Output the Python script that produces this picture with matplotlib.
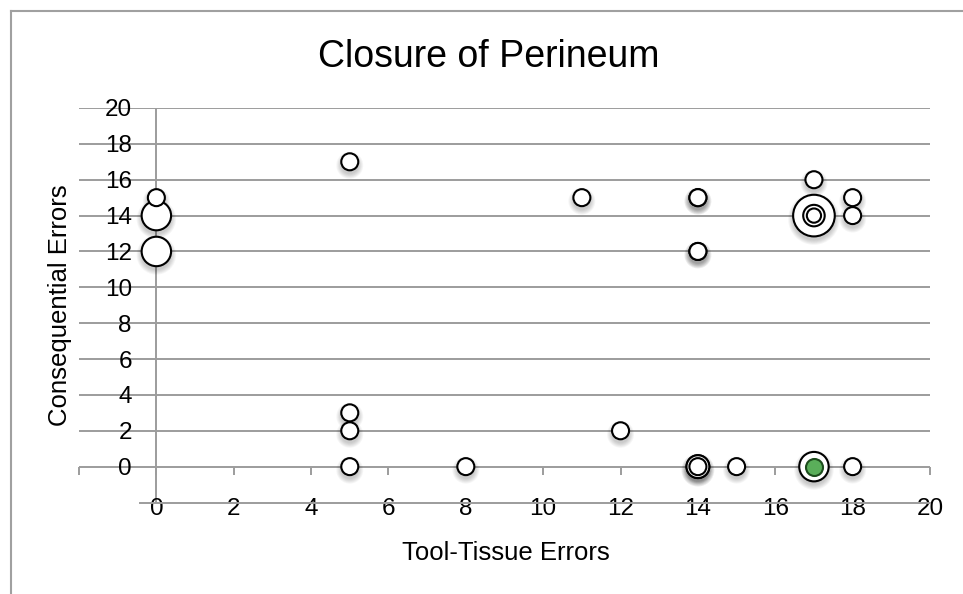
import matplotlib
matplotlib.use("Agg")
import matplotlib.pyplot as plt
import matplotlib.transforms as mtransforms
from matplotlib.lines import Line2D
import numpy as np

plt.rcParams['font.family'] = ['Liberation Sans', 'DejaVu Sans']

# ---- data ----
tool_tissue = [0, 0, 0, 5, 5, 5, 5, 8, 11, 12, 14, 14, 14, 14, 14, 14, 14, 15,
               17, 17, 17, 17, 17, 18, 18, 18]
consequential = [15, 14, 12, 17, 3, 2, 0, 0, 15, 2, 15, 15, 12, 12, 0, 0, 0, 0,
                 16, 14, 14, 14, 0, 15, 14, 0]
bubble_size = [1, 3, 3, 1, 1, 1, 1, 1, 1, 1, 1, 1, 1, 1, 1.8, 1.8, 1, 1,
               1, 6, 1.6, 0.7, 3, 1, 1, 1]

highlight_x = [17]
highlight_y = [0]
highlight_size = [1]

x_ticks = [0, 2, 4, 6, 8, 10, 12, 14, 16, 18, 20]
y_ticks = [0, 2, 4, 6, 8, 10, 12, 14, 16, 18, 20]
title = "Closure of Perineum"
x_label = "Tool-Tissue Errors"
y_label = "Consequential Errors"

# ---- figure ----
W, H, DPI = 963, 594, 100
fig = plt.figure(figsize=(W / DPI, H / DPI), dpi=DPI)
fig.patch.set_facecolor('white')

left_px, right_px, top_px, bottom_px = 79, 930, 108, 502.5
ax = fig.add_axes([left_px / W, 1 - bottom_px / H,
                   (right_px - left_px) / W, (bottom_px - top_px) / H])
ax.set_xlim(-2, 20)
ax.set_ylim(-2, 20)
for s in ax.spines.values():
    s.set_visible(False)

grid_c = '#9c9c9c'
grid_lw = 1.4
tick_fs = 17.5

# horizontal gridlines (y=0 acts as the horizontal axis line)
ax.set_yticks(y_ticks)
ax.set_yticklabels([str(v) for v in y_ticks], fontsize=tick_fs)
ax.yaxis.grid(True, color=grid_c, lw=grid_lw)
ax.tick_params(axis='y', length=0, pad=-38)
for lab in ax.get_yticklabels():
    lab.set_horizontalalignment('right')

ax.set_xticks(x_ticks)
ax.set_xticklabels([str(v) for v in x_ticks], fontsize=tick_fs)
ax.tick_params(axis='x', length=0, pad=-3.5)
ax.set_axisbelow(True)

# vertical axis line at x=0
ax.axvline(0, color=grid_c, lw=grid_lw, zorder=0.5)
# tick marks on horizontal axis at y=0 (pointing down)
tick_pos = [-2] + x_ticks
ax.plot(tick_pos, [0] * len(tick_pos), ls='', marker=3, ms=6,
        mew=grid_lw, color=grid_c, zorder=0.6, clip_on=False)
# bottom line under the axis (passes through the tick labels)
ax.plot([-0.42, 20], [-2, -2], color=grid_c, lw=grid_lw, clip_on=False, zorder=0.6)

# ---- bubbles ----
r1_px = 8.5  # radius of a size-1 bubble in pixels
px2pt = 72.0 / DPI

def s_of(size):
    r = r1_px * np.sqrt(np.asarray(size, dtype=float))
    return (2 * r * px2pt) ** 2

order = np.argsort(-np.asarray(bubble_size), kind='stable')
bx = np.asarray(tool_tissue)[order]
by = np.asarray(consequential)[order]
bs = np.asarray(bubble_size)[order]

# soft shadow
shadow_tr = ax.transData + mtransforms.ScaledTranslation(0, -3.5 / DPI, fig.dpi_scale_trans)
all_x = np.concatenate([bx, highlight_x])
all_y = np.concatenate([by, highlight_y])
all_r = r1_px * np.sqrt(np.concatenate([bs, highlight_size]).astype(float))
for k in range(6):
    rr = all_r + 0.5 + k * 0.9
    ax.scatter(all_x, all_y, s=(2 * rr * px2pt) ** 2, color='black', alpha=0.035,
               lw=0, transform=shadow_tr, zorder=1, clip_on=False)

ax.scatter(bx, by, s=s_of(bs), facecolor='white', edgecolor='black',
           linewidths=1.5, zorder=3, clip_on=False)
ax.scatter(highlight_x, highlight_y, s=s_of(highlight_size), facecolor='#5aae5a',
           edgecolor='#1d4d1d', linewidths=1.5, zorder=4, clip_on=False)

# ---- texts ----
fig.text(489 / W, 1 - 57 / H, title, ha='center', va='center', fontsize=27)
fig.text(506 / W, 1 - 553 / H, x_label, ha='center', va='center', fontsize=18.5)
fig.text(60 / W, 1 - 305 / H, y_label, ha='center', va='center', fontsize=18.5,
         rotation=90)

# ---- chart frame (top & left visible) ----
fr_c = '#a0a0a0'
fig.add_artist(Line2D([10.5 / W, 1.0], [1 - 10.5 / H, 1 - 10.5 / H],
                      transform=fig.transFigure, color=fr_c, lw=1.5))
fig.add_artist(Line2D([10.5 / W, 10.5 / W], [0.0, 1 - 10.5 / H],
                      transform=fig.transFigure, color=fr_c, lw=1.5))

fig.savefig('out.png', dpi=DPI, facecolor='white')
